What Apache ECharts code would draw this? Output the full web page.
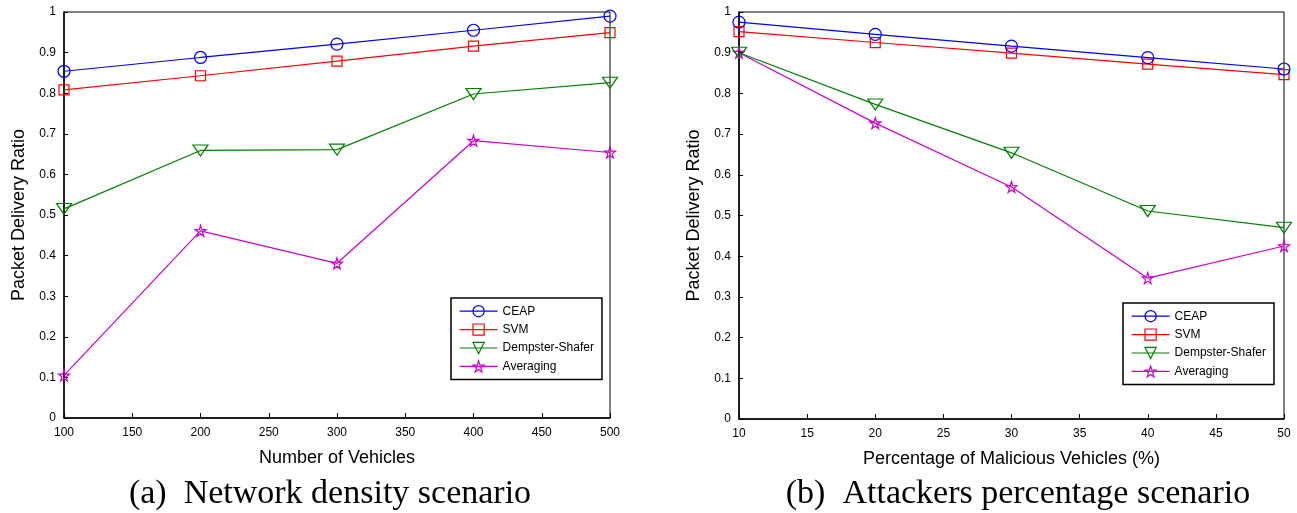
<!DOCTYPE html>
<html>
<head>
<meta charset="utf-8">
<script src="https://cdn.jsdelivr.net/npm/echarts@6/dist/echarts.min.js"></script>
<style>
  html, body { margin: 0; padding: 0; background: #fff; }
  #chart { width: 1297px; height: 513px; }
</style>
</head>
<body>
<div id="chart"></div>
<script>
// --- Data ---------------------------------------------------------------------
var vehicles = [100, 200, 300, 400, 500];
var maliciousPct = [10, 20, 30, 40, 50];

var ceapA = [0.854, 0.888, 0.921, 0.955, 0.990];
var svmA = [0.808, 0.843, 0.879, 0.916, 0.949];
var dsA = [0.515, 0.659, 0.661, 0.798, 0.826];
var avgA = [0.105, 0.461, 0.381, 0.683, 0.654];

var ceapB = [0.975, 0.945, 0.916, 0.888, 0.860];
var svmB = [0.952, 0.925, 0.899, 0.872, 0.846];
var dsB = [0.900, 0.773, 0.654, 0.511, 0.470];
var avgB = [0.900, 0.727, 0.570, 0.346, 0.425];

var seriesNames = ['CEAP', 'SVM', 'Dempster-Shafer', 'Averaging'];

// --- Styles -------------------------------------------------------------------
var COLORS = ['#0000ff', '#ff0000', '#008000', '#cc00cc'];
var SYMBOLS = [
  'circle',
  'rect',
  'path://M0,0 L100,0 L50,80 Z',
  'path://M50,0 L61,35 L98,35 L68,57 L79,91 L50,70 L21,91 L32,57 L2,35 L39,35 Z'
];
var SIZES = [[12, 12], [10, 10], [15, 11], [11, 11]];

var SANS = '"Liberation Sans", Arial, sans-serif';
var SERIF = '"Liberation Serif", "Times New Roman", serif';

var _tick = { color: '#000', fontSize: 12, fontFamily: SANS };

function xAxisFor(idx, min, max, interval, name) {
  return {
    type: 'value', gridIndex: idx, min: min, max: max, interval: interval,
    name: name, nameLocation: 'middle', nameGap: 31,
    nameTextStyle: { color: '#000', fontSize: 18, fontFamily: SANS },
    axisLine: { lineStyle: { color: '#000', width: 1.5 } },
    axisTick: { inside: true, length: 5, lineStyle: { color: '#000' } },
    axisLabel: Object.assign({ margin: 9 }, _tick),
    splitLine: { show: false }
  };
}

function yAxisFor(idx) {
  return {
    type: 'value', gridIndex: idx, min: 0, max: 1, interval: 0.1,
    name: 'Packet Delivery Ratio', nameLocation: 'middle', nameGap: 36,
    nameTextStyle: { color: '#000', fontSize: 18, fontFamily: SANS },
    axisLine: { lineStyle: { color: '#000', width: 1.5 } },
    axisTick: { inside: true, length: 4, lineStyle: { color: '#000' } },
    axisLabel: Object.assign({ margin: 8, formatter: function (v) { return v === 1 ? '1' : (v === 0 ? '0' : v.toFixed(1)); } }, _tick),
    splitLine: { show: false }
  };
}

function lineSeries(i, xs, ys, gi) {
  return {
    name: seriesNames[i], type: 'line', xAxisIndex: gi, yAxisIndex: gi,
    data: xs.map(function (x, k) { return [x, ys[k]]; }),
    symbol: SYMBOLS[i], symbolSize: SIZES[i], showAllSymbol: true,
    lineStyle: { color: COLORS[i], width: 1.2 },
    itemStyle: { color: 'rgba(255,255,255,0)', borderColor: COLORS[i], borderWidth: 1.2 },
    emphasis: { disabled: true },
    z: 10 - i
  };
}

function legendFor(left, top) {
  return {
    data: seriesNames, orient: 'vertical', left: left, top: top,
    backgroundColor: '#fff', borderColor: '#000', borderWidth: 1.5,
    padding: [7, 8, 7, 8], itemGap: 6, itemWidth: 38, itemHeight: 14,
    itemStyle: { color: 'rgba(255,255,255,0)', borderWidth: 1.2 },
    lineStyle: { width: 1.2 },
    textStyle: { color: '#000', fontSize: 12, fontFamily: SANS },
    selectedMode: false
  };
}

var chart = echarts.init(document.getElementById('chart'), null, { renderer: 'canvas' });

var series = [];
[ceapA, svmA, dsA, avgA].forEach(function (d, i) { series.push(lineSeries(i, vehicles, d, 0)); });
[ceapB, svmB, dsB, avgB].forEach(function (d, i) { series.push(lineSeries(i, maliciousPct, d, 1)); });

chart.setOption({
  backgroundColor: '#fff',
  animation: false,
  grid: [
    { left: 64, top: 12, width: 546, height: 406, show: true, borderColor: '#000', borderWidth: 1, backgroundColor: 'transparent' },
    { left: 739, top: 12, width: 545, height: 407, show: true, borderColor: '#000', borderWidth: 1, backgroundColor: 'transparent' }
  ],
  xAxis: [
    xAxisFor(0, 100, 500, 50, 'Number of Vehicles'),
    xAxisFor(1, 10, 50, 5, 'Percentage of Malicious Vehicles (%)')
  ],
  yAxis: [yAxisFor(0), yAxisFor(1)],
  legend: [legendFor(451, 298), legendFor(1123, 303)],
  title: [
    { text: '(a)  Network density scenario', left: 325, top: 472, textAlign: 'center',
      textStyle: { color: '#000', fontSize: 34, fontWeight: 'normal', fontFamily: SERIF } },
    { text: '(b)  Attackers percentage scenario', left: 1013, top: 472, textAlign: 'center',
      textStyle: { color: '#000', fontSize: 34, fontWeight: 'normal', fontFamily: SERIF } }
  ],
  series: series
});
</script>
</body>
</html>
